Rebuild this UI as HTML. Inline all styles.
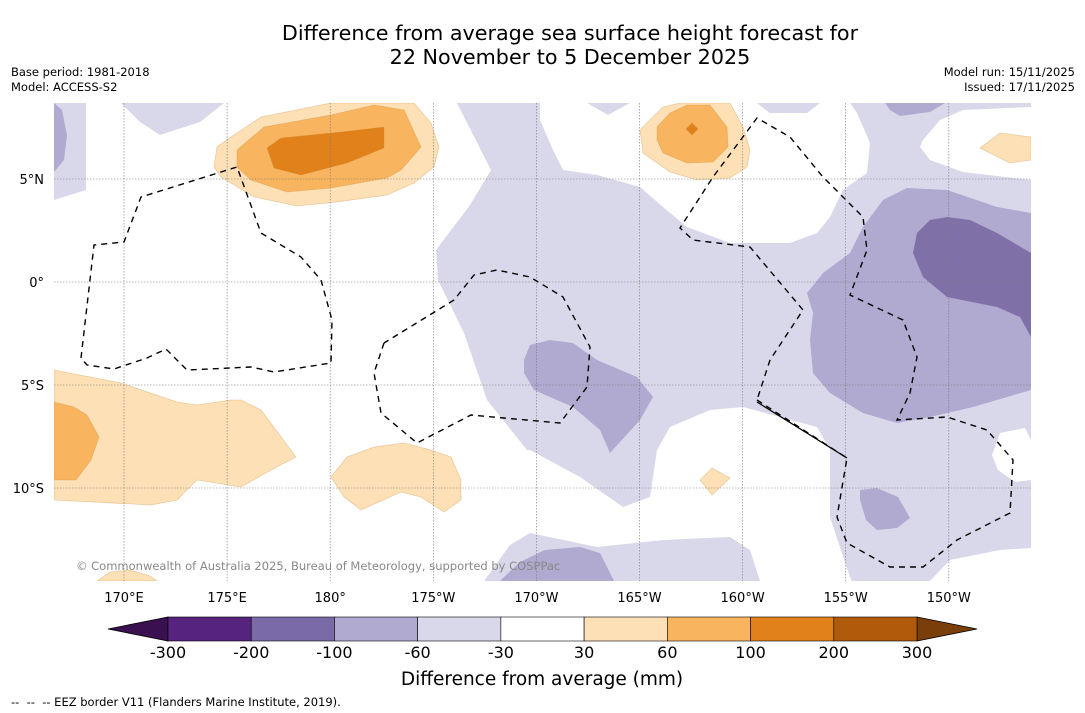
<!DOCTYPE html>
<html><head><meta charset="utf-8"><style>
body{margin:0;background:#fff;font-family:"DejaVu Sans","Liberation Sans",sans-serif}
#wrap{position:relative;width:1085px;height:713px;overflow:hidden;background:#fff}
.t{position:absolute;white-space:nowrap;color:#000}
svg text{font-family:"DejaVu Sans","Liberation Sans",sans-serif}
</style></head><body>
<div id="wrap">
<div class="t" style="left:0;width:1140px;top:21px;text-align:center;font-size:20.7px;line-height:24px">Difference from average sea surface height forecast for<br>22 November to 5 December 2025</div>
<div class="t" style="left:11px;top:65px;font-size:11.5px;line-height:15px">Base period: 1981-2018<br>Model: ACCESS-S2</div>
<div class="t" style="right:10px;top:65px;font-size:11.5px;line-height:15px;text-align:right">Model run: 15/11/2025<br>Issued: 17/11/2025</div>
<div class="t" style="left:11px;top:695px;font-size:11.5px">-- &nbsp;-- &nbsp;-- EEZ border V11 (Flanders Marine Institute, 2019).</div>
<svg id="map" width="1085" height="713" style="position:absolute;left:0;top:0"></svg>
</div>
<script>
const lonTicks=[170,175,180,185,190,195,200,205,210];
const lonLabels=["170°E","175°E","180°","175°W","170°W","165°W","160°W","155°W","150°W"];
const latTicks=[5,0,-5,-10];
const latLabels=["5°N","0°","5°S","10°S"];
const cbLevels=["-300","-200","-100","-60","-30","30","60","100","200","300"];
const cbColors=["#56237f","#7b6aa8","#b0a9d0","#d8d8ea","#ffffff","#fde0b6","#f9b45f","#e0811a","#b05a0c"];
const X=l=>124+(l-170)*20.62, Y=la=>282-la*20.6;
const NS="http://www.w3.org/2000/svg", svg=document.getElementById('map');
function mk(t,a,p){const e=document.createElementNS(NS,t);for(const k in a)e.setAttribute(k,a[k]);(p||svg).appendChild(e);return e;}
const clip=mk('clipPath',{id:'mc'});mk('rect',{x:54,y:103,width:977,height:478},clip);
const g=mk('g',{'clip-path':'url(#mc)'});

const bg=mk('rect',{x:54,y:103,width:977,height:478,fill:'#d8d8ea'},g);

const regions=[
["white-region-west","#fff","86,103 121,103 140,122 160,135 200,122 224,103 457,103 491,170 470,205 436,250 438,280 464,333 487,400 527,450 530,450 580,477 623,507 650,497 657,450 670,427 710,410 743,407 817,427 830,450 830,517 850,577 852,581 760,581 750,550 730,537 663,540 597,547 530,533 510,545 484,581 54,581 54,200 86,190"],
["white-region-north","#fff","540,103 587,103 608,115 630,103 757,103 770,113 807,113 820,103 850,103 857,113 870,143 867,173 843,190 830,217 817,233 790,243 730,243 687,227 663,207 640,187 597,175 563,170 553,150 540,120"],
["white-region-ne","#fff","920,147 923,140 940,120 963,110 1031,107 1031,180 963,172 930,160"],
["white-region-se","#fff","1000,433 1025,428 1031,440 1031,480 1015,482 998,470 992,455"],
["white-region-s","#fff","930,581 950,560 1000,550 1031,548 1031,581"],
["purple-region-east","#b0a9d0","807,293 823,273 850,253 863,227 883,200 907,188 947,190 997,207 1031,213 1031,390 973,407 930,417 897,423 863,413 830,393 813,373 810,340 813,313"],
["dark-purple-region","#8070a8","917,233 930,220 947,217 970,220 997,233 1031,253 1031,337 1020,317 997,307 947,297 923,277 913,253"],
["purple-region-center","#b0a9d0","524,360 530,345 550,340 573,343 597,360 637,377 653,397 640,420 610,453 600,430 573,407 534,390 524,373"],
["purple-region-small","#b0a9d0","860,490 877,488 898,497 910,518 897,528 877,530 866,520 860,500"],
["purple-region-south","#b0a9d0","500,581 520,562 545,550 580,547 600,553 614,581"],
["purple-region-nw","#b0a9d0","54,103 62,110 67,135 64,160 54,172"],
["purple-region-north","#b0a9d0","885,103 945,103 930,112 900,116 890,110"],
["orange-light-north","#fde0b6","214,167 217,147 231,137 261,117 331,103 414,103 431,123 439,147 434,167 414,183 387,195 337,202 297,206 254,197 221,177"],
["orange-mid-north","#f9b45f","237,150 264,127 331,115 374,105 404,110 421,147 401,170 387,178 331,188 287,192 251,180 237,167"],
["orange-dark-north","#e0811a","267,148 281,138 341,132 384,127 384,148 347,163 301,175 274,168"],
["orange-light-sw","#fde0b6","54,370 121,383 177,402 197,405 231,400 241,400 261,410 296,457 271,470 241,487 197,480 177,500 151,505 54,500"],
["orange-mid-sw","#f9b45f","54,402 74,407 87,415 99,437 91,460 76,480 54,480"],
["orange-light-center","#fde0b6","331,477 347,457 374,447 404,443 431,450 451,457 461,480 461,500 444,512 421,497 401,492 361,510 344,497"],
["orange-light-ne","#fde0b6","640,130 663,107 680,103 730,103 743,127 750,150 747,167 730,178 697,180 670,172 643,153"],
["orange-mid-ne","#f9b45f","657,127 670,113 687,105 710,105 727,127 728,147 713,162 687,163 663,153 657,140"],
["orange-dark-ne","#e0811a","692,123 698,129 692,135 686,129"],
["orange-light-east","#fde0b6","980,148 1000,133 1031,137 1031,160 1010,163"],
["orange-light-small","#fde0b6","700,480 712,468 730,478 712,495"],
["orange-light-bottom","#fde0b6","97,581 110,572 130,570 150,576 157,581"]];
regions.forEach(r=>{const p=mk('polygon',{points:r[2],fill:r[1],stroke:r[1]==='#fff'?'none':'rgba(200,140,60,0.35)','stroke-width':r[1].startsWith('#f')||r[1].startsWith('#e')?0.8:0},g);

});
lonTicks.forEach((l,i)=>{const ln=mk('line',{x1:X(l),x2:X(l),y1:103,y2:581,stroke:'#777','stroke-width':0.6,'stroke-dasharray':'1.5,1.5'},g);


const t=mk('text',{x:X(l),y:602,'text-anchor':'middle','font-size':13});t.textContent=lonLabels[i];

});
latTicks.forEach((la,i)=>{const ln=mk('line',{x1:54,x2:1031,y1:Y(la),y2:Y(la),stroke:'#777','stroke-width':0.6,'stroke-dasharray':'1.5,1.5'},g);


const t=mk('text',{x:44,y:Y(la)+5,'text-anchor':'end','font-size':13});t.textContent=latLabels[i];

});
const eez=[["eez-west","81,358 94,245 124,242 141,197 237,167 261,233 301,257 321,280 332,320 331,363 274,372 251,367 187,370 166,349 147,358 114,369 87,365 81,358"],
["eez-center","384,343 374,373 381,413 417,443 471,415 504,418 560,423 587,387 590,347 563,297 530,277 497,270 474,275 454,300 384,343"],
["eez-east","757,400 847,458 837,517 847,543 890,567 923,567 957,540 1010,513 1013,460 987,430 947,417 897,420 910,393 917,357 903,320 850,295 867,250 863,217 823,177 790,137 757,118 713,177 680,228 693,240 750,247 803,310 770,360 757,400"]];
eez.forEach(e=>{const p=mk('polyline',{points:e[1],fill:'none',stroke:'#000','stroke-width':1.4,'stroke-dasharray':'6,5'},g);

});
const sl=mk('line',{x1:757,y1:402,x2:847,y2:458,stroke:'#000','stroke-width':1.3},g);


const cp=mk('text',{x:76,y:570,'font-size':11.5,fill:'#888'},g);cp.textContent="© Commonwealth of Australia 2025, Bureau of Meteorology, supported by COSPPac";


const cx0=168,cx1=917,cy=617,ch=24,cw=(cx1-cx0)/cbColors.length;
const lt=mk('polygon',{points:`${cx0},${cy} 108,${cy+ch/2} ${cx0},${cy+ch}`,fill:'#3a1050',stroke:'#000','stroke-width':0.8});


const rt=mk('polygon',{points:`${cx1},${cy} 977,${cy+ch/2} ${cx1},${cy+ch}`,fill:'#7a3e0a',stroke:'#000','stroke-width':0.8});


cbColors.forEach((c,i)=>{const r=mk('rect',{x:cx0+i*cw,y:cy,width:cw,height:ch,fill:c,stroke:'#000','stroke-width':0.6});

});
cbLevels.forEach((v,i)=>{const t=mk('text',{x:cx0+i*cw,y:658,'text-anchor':'middle','font-size':16});t.textContent=v;

});
const ct=mk('text',{x:542,y:685,'text-anchor':'middle','font-size':18.5});ct.textContent="Difference from average (mm)";


</script>
</body></html>
